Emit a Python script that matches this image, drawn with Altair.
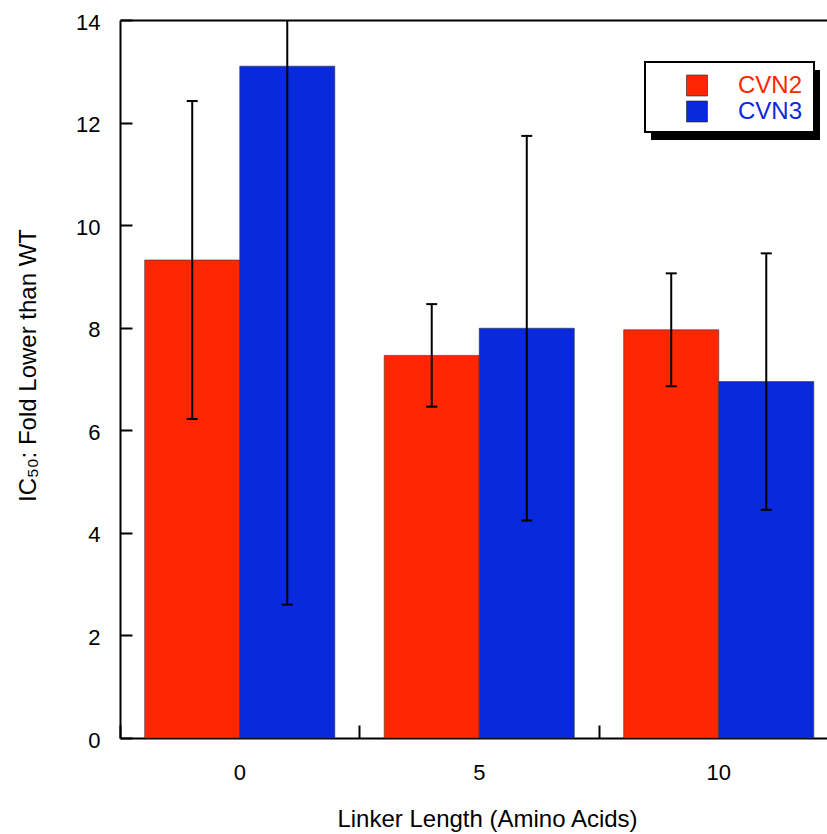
import altair as alt
import pandas as pd

# ---- data ----
linker = ["0", "5", "10"]
series = ["CVN2", "CVN3"]
colors = ["#ff2600", "#0829dc"]
cvn2_mean = [9.32, 7.46, 7.96]
cvn2_err = [3.10, 1.00, 1.10]
cvn3_mean = [13.10, 7.99, 6.95]
cvn3_err = [10.50, 3.75, 2.50]
y_ticks = [0, 2, 4, 6, 8, 10, 12, 14]

rows = []
for s, means, errs in [("CVN2", cvn2_mean, cvn2_err), ("CVN3", cvn3_mean, cvn3_err)]:
    for l, m, e in zip(linker, means, errs):
        rows.append({"linker": l, "series": s, "mean": m, "lo": m - e, "hi": m + e})
df = pd.DataFrame(rows)
leg = pd.DataFrame({"series": series})
one = pd.DataFrame({"k": [0]})

FONT = "Liberation Sans"
W, H = 707, 718

xscale = alt.Scale(domain=linker, range=[0, 718.5], paddingInner=0, paddingOuter=0)
yscale = alt.Scale(domain=[0, 14], nice=False, zero=True)
offscale = alt.Scale(domain=series, paddingInner=0, paddingOuter=0.26)
cscale = alt.Scale(domain=series, range=colors)

base = alt.Chart(df)

bars = base.mark_bar(stroke="#333333", strokeWidth=0.6).encode(
    x=alt.X("linker:N", scale=xscale, sort=linker,
            axis=alt.Axis(orient="bottom", title="Linker Length (Amino Acids)",
                          ticks=False, tickSize=0, domain=True, domainColor="black",
                          domainWidth=2, labelAngle=0, labelFontSize=22,
                          labelPadding=41, labelBaseline="alphabetic",
                          titleFontSize=24, titleX=367, titleY=88,
                          titleBaseline="alphabetic", titleAlign="center", grid=False)),
    xOffset=alt.XOffset("series:N", scale=offscale, sort=series),
    y=alt.Y("mean:Q", scale=yscale,
            axis=alt.Axis(orient="left", title="IC₅₀: Fold Lower than WT", values=y_ticks,
                          ticks=False, tickSize=0, domain=True, domainColor="black",
                          domainWidth=2, labelFontSize=22, labelPadding=20,
                          labelOffset=2,
                          titleFontSize=24, titleX=-85, titleY=345, titleAngle=-90,
                          titleBaseline="alphabetic", titleAlign="center", grid=False)),
    color=alt.Color("series:N", scale=cscale, legend=None),
)

rules = base.mark_rule(color="black", strokeWidth=2, clip=True).encode(
    x=alt.X("linker:N", scale=xscale, sort=linker, axis=None),
    xOffset=alt.XOffset("series:N", scale=offscale, sort=series),
    y=alt.Y("lo:Q", scale=yscale, axis=None),
    y2="hi:Q",
)

caps = []
for fld in ["lo", "hi"]:
    caps.append(base.mark_tick(color="black", thickness=2, size=11, clip=True, opacity=1).encode(
        x=alt.X("linker:N", scale=xscale, sort=linker, axis=None),
        xOffset=alt.XOffset("series:N", scale=offscale, sort=series),
        y=alt.Y(f"{fld}:Q", scale=yscale, axis=None),
    ))

xticks = base.mark_point(opacity=0).encode(
    x=alt.X("linker:N", scale=xscale, sort=linker,
            axis=alt.Axis(orient="top", offset=-H, bandPosition=0, labels=False,
                          domain=False, ticks=True, tickSize=13, tickWidth=2,
                          tickColor="black", title=None, grid=False)),
)
xtop = base.mark_point(opacity=0).encode(
    x=alt.X("linker:N", scale=xscale, sort=linker,
            axis=alt.Axis(orient="top", labels=False, ticks=False, domain=True,
                          domainWidth=2, domainColor="black", title=None, grid=False)),
)
yticks = base.mark_point(opacity=0).encode(
    y=alt.Y("mean:Q", scale=yscale,
            axis=alt.Axis(orient="right", offset=-W, values=y_ticks, labels=False,
                          domain=False, ticks=True, tickSize=12, tickWidth=2,
                          tickColor="black", title=None, grid=False)),
)

shadow = alt.Chart(one).mark_rect(fill="black").encode(
    x=alt.value(531), x2=alt.value(700), y=alt.value(50), y2=alt.value(120))
box = alt.Chart(one).mark_rect(fill="white", stroke="black", strokeWidth=2).encode(
    x=alt.value(525), x2=alt.value(694), y=alt.value(42), y2=alt.value(112))

legend_layers = []
for i, s in enumerate(series):
    src = alt.Chart(leg).transform_filter(alt.datum.series == s)
    legend_layers.append(src.mark_square(size=441, stroke="#222222", strokeWidth=0.6,
                                         opacity=1).encode(
        x=alt.value(577), y=alt.value(65.5 + 26 * i),
        color=alt.Color("series:N", scale=cscale, legend=None)))
    legend_layers.append(src.mark_text(align="left", baseline="middle", font=FONT,
                                       fontSize=24).encode(
        x=alt.value(618), y=alt.value(66 + 26 * i), text="series:N",
        color=alt.Color("series:N", scale=cscale, legend=None)))

chart = alt.layer(
    bars, rules, *caps, xticks, xtop, yticks, shadow, box, *legend_layers
).resolve_axis(
    x="independent", y="independent"
).properties(
    width=W, height=H,
    autosize=alt.AutoSizeParams(type="none"),
    padding={"left": 120, "top": 20, "right": 0, "bottom": 96},
).configure_view(
    stroke=None
).configure_axis(
    labelFont=FONT, titleFont=FONT, labelColor="black", titleColor="black",
    titleFontWeight="normal",
)

chart.save("out.html", embed_options={"renderer": "svg", "actions": False})
